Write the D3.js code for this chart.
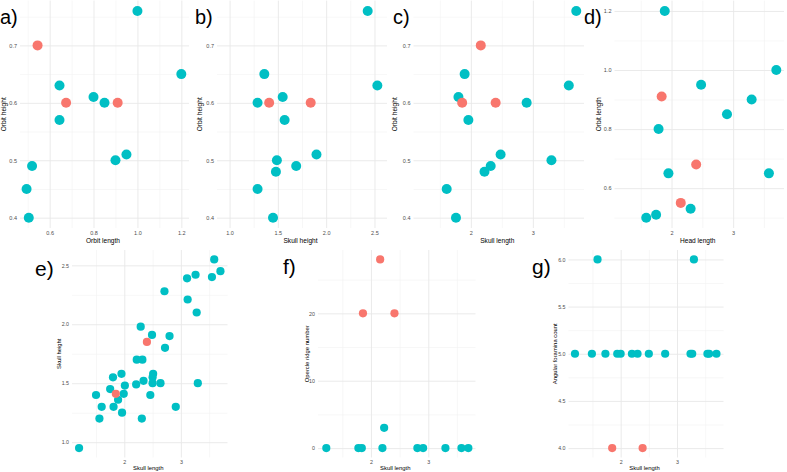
<!DOCTYPE html>
<html>
<head>
<meta charset="utf-8">
<script src="https://cdn.jsdelivr.net/npm/d3@7"></script>
<style>
  body { margin: 0; background: #fff; }
  svg { display: block; font-family: "Liberation Sans", Arial, Helvetica, sans-serif; }
</style>
</head>
<body>
<svg id="chart" width="787" height="472"></svg>
<script>
// Groups and their colours (ggplot default hues)
var groupNames = ["A", "B"];
var groupColors = ["#F8766D", "#00BFC4"];

// a) orbit length vs orbit height
var aOrbitLength = [1.00, 1.20, 0.645, 0.80, 0.85, 0.645, 0.52, 0.495, 0.505, 0.90, 0.95, 0.545, 0.675, 0.91];
var aOrbitHeight = [0.76, 0.65, 0.63, 0.61, 0.60, 0.57, 0.49, 0.45, 0.40, 0.50, 0.51, 0.70, 0.60, 0.60];
var aGroup = ["B","B","B","B","B","B","B","B","B","B","B","A","A","A"];

// b) skull height vs orbit height
var bSkullHeight = [2.43, 1.36, 2.53, 1.55, 1.29, 1.57, 1.90, 1.49, 1.69, 1.48, 1.29, 1.45, 1.41, 1.84];
var bOrbitHeight = [0.76, 0.65, 0.63, 0.61, 0.60, 0.57, 0.51, 0.50, 0.49, 0.48, 0.45, 0.40, 0.60, 0.60];
var bGroup = ["B","B","B","B","B","B","B","B","B","B","B","B","A","A"];

// c) skull length vs orbit height
var cSkullLength = [3.70, 1.90, 3.58, 1.80, 2.90, 1.96, 2.48, 3.30, 2.32, 2.22, 1.61, 1.76, 2.16, 1.86, 2.40];
var cOrbitHeight = [0.76, 0.65, 0.63, 0.61, 0.60, 0.57, 0.51, 0.50, 0.49, 0.48, 0.45, 0.40, 0.70, 0.60, 0.60];
var cGroup = ["B","B","B","B","B","B","B","B","B","B","B","B","A","A","A"];

// d) head length vs orbit length
var dHeadLength = [1.89, 3.70, 2.48, 3.30, 2.90, 1.79, 1.95, 3.58, 2.31, 1.75, 1.59, 1.84, 2.40, 2.15];
var dOrbitLength = [1.20, 1.00, 0.95, 0.90, 0.85, 0.80, 0.65, 0.65, 0.53, 0.51, 0.50, 0.91, 0.68, 0.55];
var dGroup = ["B","B","B","B","B","B","B","B","B","B","B","A","A","A"];

// e) skull length vs skull height
var eSkullLength = [3.59, 3.70, 3.55, 3.26, 3.11, 2.71, 3.12, 3.28, 2.29, 2.49, 2.80, 2.72, 2.22, 2.32,
  1.95, 1.80, 2.51, 2.50, 1.75, 2.01, 2.21, 2.34, 2.50, 2.64, 3.30, 1.50, 1.89, 1.99, 2.46,
  1.60, 1.81, 1.96, 2.91, 1.56, 2.31, 1.20, 2.40, 1.85];
var eSkullHeight = [2.55, 2.45, 2.40, 2.42, 2.39, 2.28, 2.21, 2.10, 1.98, 1.91, 1.90, 1.80, 1.70, 1.70,
  1.58, 1.55, 1.58, 1.55, 1.45, 1.48, 1.49, 1.52, 1.50, 1.50, 1.50, 1.40, 1.36, 1.41, 1.40,
  1.30, 1.30, 1.25, 1.30, 1.20, 1.20, 0.95, 1.85, 1.41];
var eGroup = ["B","B","B","B","B","B","B","B","B","B","B","B","B","B",
  "B","B","B","B","B","B","B","B","B","B","B","B","B","B","B",
  "B","B","B","B","B","B","B","A","A"];

// f) skull length vs opercle ridge number
var fSkullLength = [2.23, 1.22, 1.78, 1.84, 2.20, 2.81, 2.91, 3.30, 3.58, 3.70, 2.16, 1.86, 2.41];
var fOpercle = [3, 0, 0, 0, 0, 0, 0, 0, 0, 0, 28, 20, 20];
var fGroup = ["B","B","B","B","B","B","B","B","B","B","A","A","A"];

// g) skull length vs angular foramina count
var gSkullLength = [1.59, 3.30, 1.19, 1.49, 1.73, 1.94, 2.00, 2.20, 2.30, 2.50, 2.79, 3.24, 3.27, 3.54, 3.57, 3.70, 1.85, 2.39];
var gForamina = [6, 6, 5, 5, 5, 5, 5, 5, 5, 5, 5, 5, 5, 5, 5, 5, 4, 4];
var gGroup = ["B","B","B","B","B","B","B","B","B","B","B","B","B","B","B","B","A","A"];

// Axis limits, breaks and minor breaks
var orbitHeightLim = [0.382, 0.778], orbitHeightTicks = [0.4, 0.5, 0.6, 0.7], orbitHeightMinor = [0.45, 0.55, 0.65, 0.75];
var orbitLengthLim = [0.465, 1.235], orbitLengthTicks = [0.6, 0.8, 1.0, 1.2], orbitLengthMinor = [0.5, 0.7, 0.9, 1.1];
var skullHeightLim = [0.87, 2.63], skullHeightTicks = [1.0, 1.5, 2.0, 2.5], skullHeightMinor = [1.25, 1.75, 2.25];
var skullLengthLim = [1.075, 3.825], skullLengthTicks = [2, 3], skullLengthMinor = [1.5, 2.5, 3.5];
var opercleLim = [-1.4, 29.4], opercleTicks = [0, 10, 20], opercleMinor = [5, 15, 25];
var foraminaLim = [3.9, 6.1], foraminaTicks = [4.0, 4.5, 5.0, 5.5, 6.0], foraminaMinor = [4.25, 4.75, 5.25, 5.75];

var color = d3.scaleOrdinal().domain(groupNames).range(groupColors);

// Row settings (the two rows were rendered at slightly different scales)
var rows = {
  top: { top: 0.6, bottom: 228, r: 5, tickSize: 5.5, titleSize: 6.6, xPad: 3.3, xTitleY: 240.7, tagSize: 20 },
  bottom: { top: 250, bottom: 457.5, r: 4.1, tickSize: 5.3, titleSize: 5.9, xPad: 2.8, xTitleY: 468.3, tagSize: 21 }
};

var panels = [
  { tag: "a)", row: "top", x: aOrbitLength, y: aOrbitHeight, grp: aGroup, left: 20, right: 189,
    xLim: orbitLengthLim, xTicks: orbitLengthTicks, xMinor: orbitLengthMinor, xFmt: ".1f",
    yLim: orbitHeightLim, yTicks: orbitHeightTicks, yMinor: orbitHeightMinor, yFmt: ".1f",
    xTitle: "Orbit length", yTitle: "Orbit height", yTitleX: 3.5, tagX: 0, tagY: 24 },
  { tag: "b)", row: "top", x: bSkullHeight, y: bOrbitHeight, grp: bGroup, left: 217, right: 387,
    xLim: skullHeightLim, xTicks: skullHeightTicks, xMinor: skullHeightMinor, xFmt: ".1f",
    yLim: orbitHeightLim, yTicks: orbitHeightTicks, yMinor: orbitHeightMinor, yFmt: ".1f",
    xTitle: "Skull height", yTitle: "Orbit height", yTitleX: 200, tagX: 195, tagY: 24 },
  { tag: "c)", row: "top", x: cSkullLength, y: cOrbitHeight, grp: cGroup, left: 413.5, right: 584,
    xLim: skullLengthLim, xTicks: skullLengthTicks, xMinor: skullLengthMinor, xFmt: "d",
    yLim: orbitHeightLim, yTicks: orbitHeightTicks, yMinor: orbitHeightMinor, yFmt: ".1f",
    xTitle: "Skull length", yTitle: "Orbit height", yTitleX: 395, tagX: 393, tagY: 24 },
  { tag: "d)", row: "top", x: dHeadLength, y: dOrbitLength, grp: dGroup, left: 614.5, right: 784,
    xLim: skullLengthLim, xTicks: skullLengthTicks, xMinor: skullLengthMinor, xFmt: "d",
    yLim: orbitLengthLim, yTicks: orbitLengthTicks, yMinor: orbitLengthMinor, yFmt: ".1f",
    xTitle: "Head length", yTitle: "Orbit length", yTitleX: 598.5, tagX: 584, tagY: 24 },
  { tag: "e)", row: "bottom", x: eSkullLength, y: eSkullHeight, grp: eGroup, left: 72, right: 227.5,
    xLim: skullLengthLim, xTicks: skullLengthTicks, xMinor: skullLengthMinor, xFmt: "d",
    yLim: skullHeightLim, yTicks: skullHeightTicks, yMinor: skullHeightMinor, yFmt: ".1f",
    xTitle: "Skull length", yTitle: "Skull height", yTitleX: 58.5, tagX: 35, tagY: 276 },
  { tag: "f)", row: "bottom", x: fSkullLength, y: fOpercle, grp: fGroup, left: 318, right: 475.5,
    xLim: skullLengthLim, xTicks: skullLengthTicks, xMinor: skullLengthMinor, xFmt: "d",
    yLim: opercleLim, yTicks: opercleTicks, yMinor: opercleMinor, yFmt: "d",
    xTitle: "Skull length", yTitle: "Opercle ridge number", yTitleX: 306.5, tagX: 283, tagY: 274 },
  { tag: "g)", row: "bottom", x: gSkullLength, y: gForamina, grp: gGroup, left: 568.5, right: 723.5,
    xLim: skullLengthLim, xTicks: skullLengthTicks, xMinor: skullLengthMinor, xFmt: "d",
    yLim: foraminaLim, yTicks: foraminaTicks, yMinor: foraminaMinor, yFmt: ".1f",
    xTitle: "Skull length", yTitle: "Angular foramina count", yTitleX: 555, tagX: 532, tagY: 274 }
];

var svg = d3.select("#chart");
var fontFamily = "'Liberation Sans', Arial, Helvetica, sans-serif";

panels.forEach(function(p) {
  var row = rows[p.row];
  var h = row.bottom - row.top;
  var w = p.right - p.left;

  var x = d3.scaleLinear().domain(p.xLim).range([p.left, p.right]);
  var y = d3.scaleLinear().domain(p.yLim).range([row.bottom, row.top]);

  var g = svg.append("g").attr("class", "panel");

  // Grid lines: minor first, then major
  function grid(cls, xVals, yVals, stroke, width) {
    g.append("g")
      .attr("class", cls)
      .attr("transform", `translate(0, ${row.bottom})`)
      .call(d3.axisBottom(x).tickValues(xVals).tickSize(-h).tickFormat(""))
      .call(a => a.select(".domain").remove())
      .selectAll("line").attr("stroke", stroke).attr("stroke-width", width);
    g.append("g")
      .attr("class", cls)
      .attr("transform", `translate(${p.left}, 0)`)
      .call(d3.axisLeft(y).tickValues(yVals).tickSize(-w).tickFormat(""))
      .call(a => a.select(".domain").remove())
      .selectAll("line").attr("stroke", stroke).attr("stroke-width", width);
  }
  grid("grid-minor", p.xMinor, p.yMinor, "#f1f1f1", 0.6);
  grid("grid-major", p.xTicks, p.yTicks, "#e8e8e8", 0.9);

  // Tick labels
  g.append("g")
    .attr("transform", `translate(0, ${row.bottom})`)
    .call(d3.axisBottom(x).tickValues(p.xTicks).tickFormat(d3.format(p.xFmt)).tickSize(0).tickPadding(row.xPad))
    .call(a => a.select(".domain").remove())
    .attr("font-size", row.tickSize)
    .attr("font-family", fontFamily)
    .attr("color", "#4d4d4d");

  g.append("g")
    .attr("transform", `translate(${p.left}, 0)`)
    .call(d3.axisLeft(y).tickValues(p.yTicks).tickFormat(d3.format(p.yFmt)).tickSize(0).tickPadding(3))
    .call(a => a.select(".domain").remove())
    .attr("font-size", row.tickSize)
    .attr("font-family", fontFamily)
    .attr("color", "#4d4d4d");

  // Axis titles
  g.append("text")
    .attr("x", (p.left + p.right) / 2 - 1.5)
    .attr("y", row.xTitleY)
    .attr("dy", "0.35em")
    .attr("text-anchor", "middle")
    .attr("font-size", row.titleSize)
    .attr("fill", "#000")
    .text(p.xTitle);

  g.append("text")
    .attr("transform", `translate(${p.yTitleX}, ${(row.top + row.bottom) / 2}) rotate(-90)`)
    .attr("dy", "0.35em")
    .attr("text-anchor", "middle")
    .attr("font-size", row.titleSize)
    .attr("fill", "#000")
    .text(p.yTitle);

  // Points
  var pts = p.x.map((v, i) => ({ x: v, y: p.y[i], grp: p.grp[i] }));
  g.append("g")
    .selectAll("circle")
    .data(pts)
    .enter().append("circle")
      .attr("cx", d => x(d.x))
      .attr("cy", d => y(d.y))
      .attr("r", row.r)
      .attr("fill", d => color(d.grp));

  // Panel tag
  svg.append("text")
    .attr("x", p.tagX)
    .attr("y", p.tagY)
    .attr("font-size", row.tagSize)
    .attr("fill", "#000")
    .text(p.tag);
});
</script>
</body>
</html>
